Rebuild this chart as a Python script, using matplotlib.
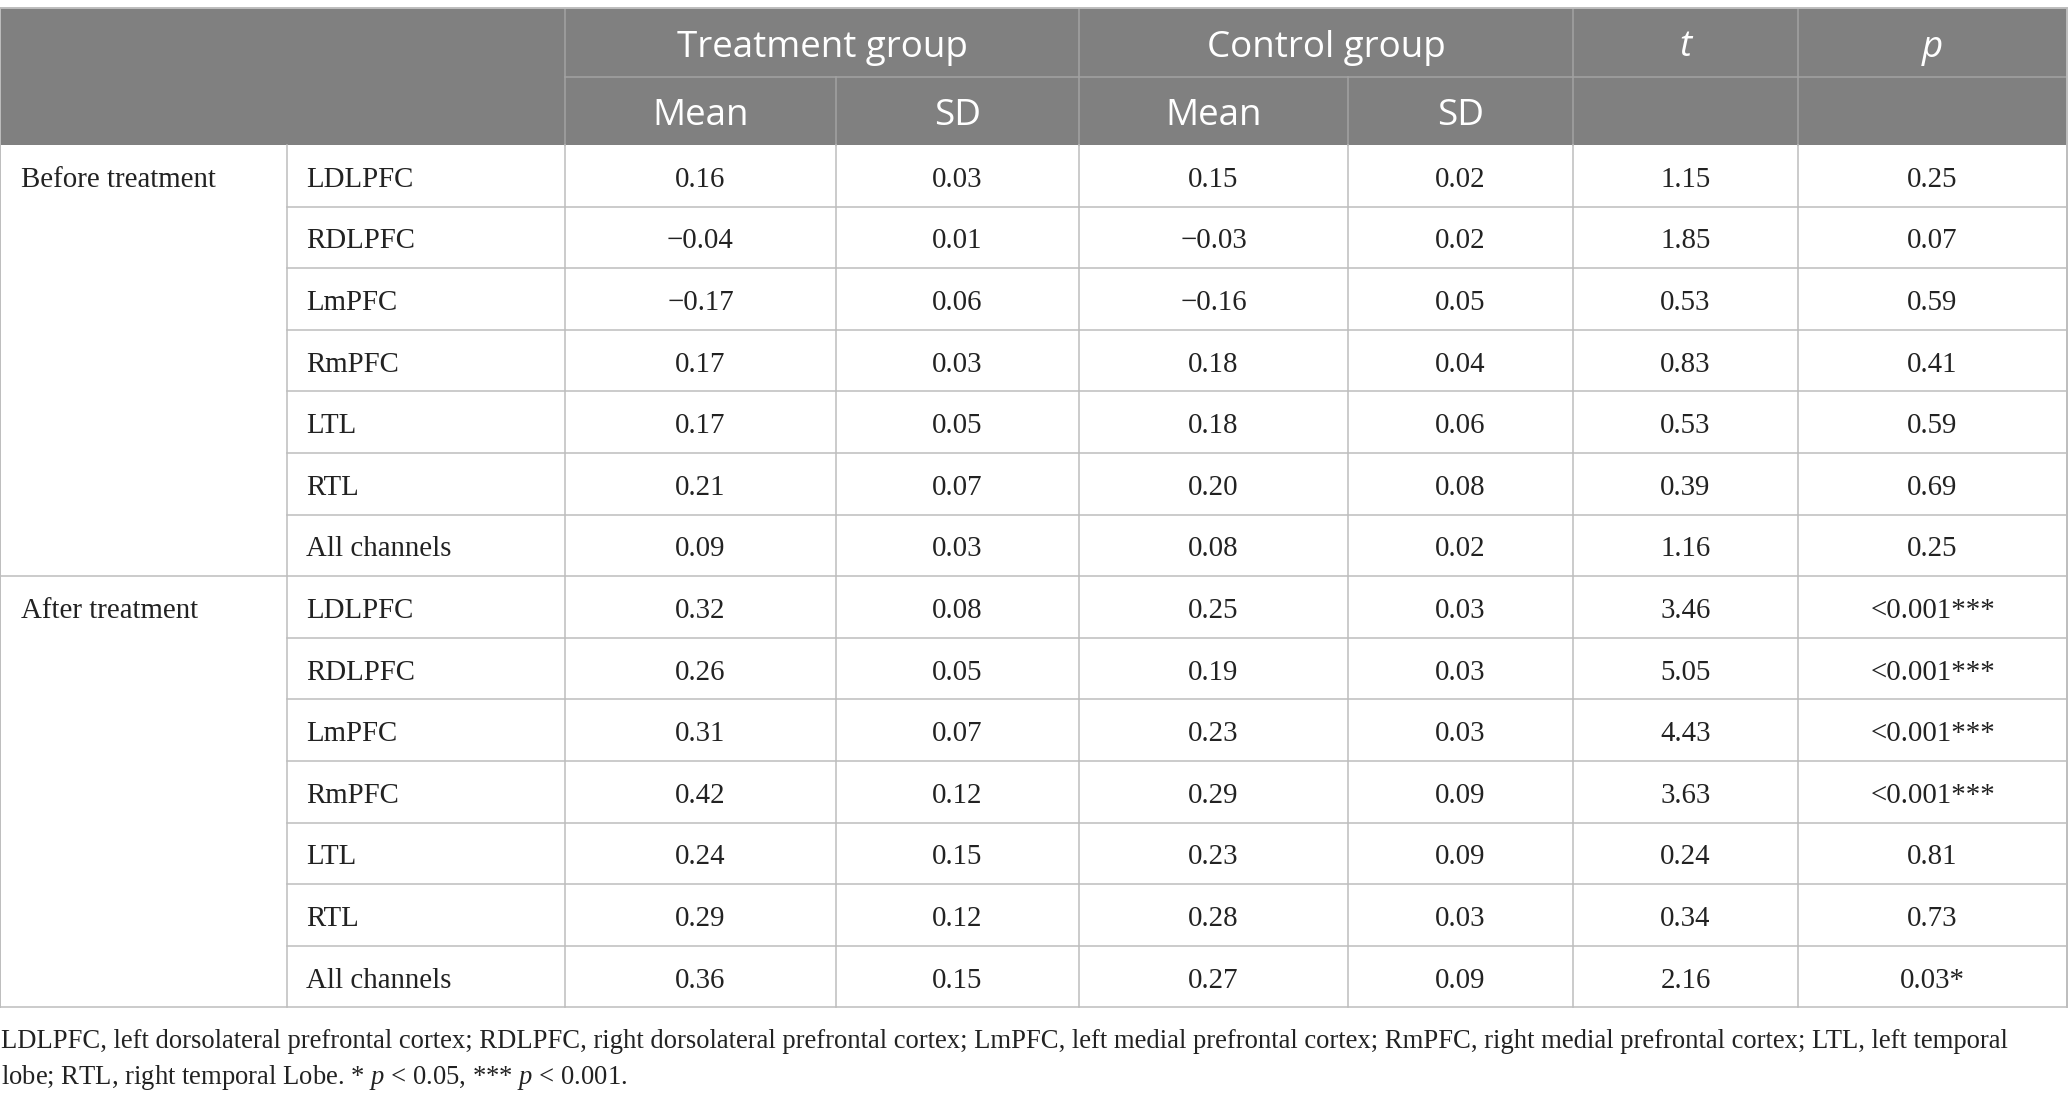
import matplotlib
matplotlib.use('Agg')
import matplotlib.pyplot as plt
from matplotlib.patches import Rectangle

plt.rcParams['mathtext.fontset'] = 'custom'
plt.rcParams['mathtext.rm'] = 'Liberation Serif'
plt.rcParams['mathtext.it'] = 'Liberation Serif:italic'

# data
sections = ['Before treatment', 'After treatment']
regions = ['LDLPFC', 'RDLPFC', 'LmPFC', 'RmPFC', 'LTL', 'RTL', 'All channels']

before_treat_mean = [0.16, -0.04, -0.17, 0.17, 0.17, 0.21, 0.09]
before_treat_sd = [0.03, 0.01, 0.06, 0.03, 0.05, 0.07, 0.03]
before_ctrl_mean = [0.15, -0.03, -0.16, 0.18, 0.18, 0.20, 0.08]
before_ctrl_sd = [0.02, 0.02, 0.05, 0.04, 0.06, 0.08, 0.02]
before_t = [1.15, 1.85, 0.53, 0.83, 0.53, 0.39, 1.16]
before_p = ['0.25', '0.07', '0.59', '0.41', '0.59', '0.69', '0.25']

after_treat_mean = [0.32, 0.26, 0.31, 0.42, 0.24, 0.29, 0.36]
after_treat_sd = [0.08, 0.05, 0.07, 0.12, 0.15, 0.12, 0.15]
after_ctrl_mean = [0.25, 0.19, 0.23, 0.29, 0.23, 0.28, 0.27]
after_ctrl_sd = [0.03, 0.03, 0.03, 0.09, 0.09, 0.03, 0.09]
after_t = [3.46, 5.05, 4.43, 3.63, 0.24, 0.34, 2.16]
after_p = ['<0.001***', '<0.001***', '<0.001***', '<0.001***', '0.81', '0.73', '0.03*']

group_labels = ['Treatment group', 'Control group']
sub_labels = ['Mean', 'SD', 'Mean', 'SD']

footnote = [
    'LDLPFC, left dorsolateral prefrontal cortex; RDLPFC, right dorsolateral prefrontal cortex; '
    'LmPFC, left medial prefrontal cortex; RmPFC, right medial prefrontal cortex; LTL, left temporal',
    'lobe; RTL, right temporal Lobe. * $p$ < 0.05, *** $p$ < 0.001.',
]


def fmt(v):
    return f'{v:.2f}'.replace('-', '\u2212')


# layout in pixels
W, H = 2068, 1105
col_x = [0, 287, 565, 836, 1079, 1348, 1573, 1798, 2067]
top, mid, head_bot = 8, 77, 145
row_h = 61.6
header_bg = '#808080'
line_c = '#bdbdbd'
head_line = '#a3a3a3'

fig = plt.figure(figsize=(W / 100, H / 100), dpi=100)
ax = fig.add_axes([0, 0, 1, 1])
ax.set_xlim(0, W)
ax.set_ylim(H, 0)
ax.axis('off')

# header
ax.add_patch(Rectangle((col_x[0], top), col_x[-1] - col_x[0], head_bot - top,
                       facecolor=header_bg, edgecolor='none'))
ax.plot([col_x[2], col_x[-1]], [mid, mid], color=head_line, lw=1.1)
for x in col_x[2:-1]:
    if x in (col_x[3], col_x[5]):
        ax.plot([x, x], [mid, head_bot], color=head_line, lw=1.1)
    else:
        ax.plot([x, x], [top, head_bot], color=head_line, lw=1.1)

hfont = dict(family='Open Sans', color='white', fontsize=26.5, ha='center', va='center')
hy1 = (top + mid) / 2 + 5
hy2 = (mid + head_bot) / 2 + 5
for i, g in enumerate(group_labels):
    ax.text((col_x[2 + 2 * i] + col_x[4 + 2 * i]) / 2, hy1, g, **hfont)
ax.text((col_x[6] + col_x[7]) / 2, hy1, 't', style='italic', **hfont)
ax.text((col_x[7] + col_x[8]) / 2, hy1, 'p', style='italic', **hfont)
for i, s in enumerate(sub_labels):
    ax.text((col_x[2 + i] + col_x[3 + i]) / 2, hy2, s, **hfont)

# body
bfont = dict(family='Liberation Serif', color='#222222', fontsize=20.8, va='center')
blocks = [
    (before_treat_mean, before_treat_sd, before_ctrl_mean, before_ctrl_sd, before_t, before_p),
    (after_treat_mean, after_treat_sd, after_ctrl_mean, after_ctrl_sd, after_t, after_p),
]
n = len(regions)
for s, (tm, ts, cm, cs, tv, pv) in enumerate(blocks):
    y0 = head_bot + s * n * row_h
    ax.text(col_x[0] + 21, y0 + row_h / 2 + 4, sections[s], ha='left', **bfont)
    for k in range(n):
        yc = y0 + (k + 0.5) * row_h + 4
        vals = [fmt(tm[k]), fmt(ts[k]), fmt(cm[k]), fmt(cs[k]), fmt(tv[k]), pv[k]]
        ax.text(col_x[1] + 19, yc, regions[k], ha='left', **bfont)
        for j, v in enumerate(vals):
            ax.text((col_x[2 + j] + col_x[3 + j]) / 2, yc, v, ha='center', **bfont)
        yb = y0 + (k + 1) * row_h
        x_start = col_x[0] if k == n - 1 else col_x[1]
        ax.plot([x_start, col_x[-1]], [yb, yb], color=line_c, lw=1.1)

table_bot = head_bot + 2 * n * row_h
for x in col_x[1:-1]:
    ax.plot([x, x], [head_bot, table_bot], color=line_c, lw=1.1)
ax.plot([col_x[0], col_x[0]], [top, table_bot], color=line_c, lw=1.4)
ax.plot([col_x[-1], col_x[-1]], [top, table_bot], color=line_c, lw=1.4)
ax.plot([col_x[0], col_x[-1]], [top, top], color=line_c, lw=1.4)

# footnote
for i, line in enumerate(footnote):
    ax.text(1, 1042 + i * 36, line, ha='left', va='center', family='Liberation Serif',
            color='#222222', fontsize=19.2)

fig.savefig('out.png', dpi=100)
